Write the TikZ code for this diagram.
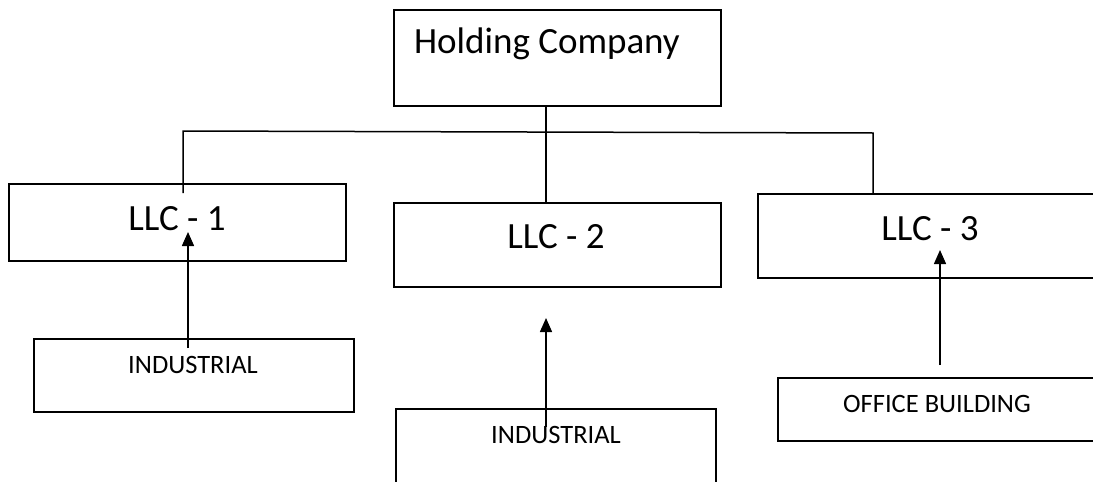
\documentclass[tikz,border=0pt]{standalone}
\usepackage{fontspec}
\setmainfont{Carlito}
\usetikzlibrary{arrows.meta}

\tikzset{
  box/.style={draw, line width=1.5pt, rectangle, inner sep=0pt, anchor=north west},
  bigtext/.style={font=\fontsize{37}{42}\selectfont, anchor=base, inner sep=0pt},
  smalltext/.style={font=\fontsize{26.5}{31}\selectfont, anchor=base, inner sep=0pt},
  wire/.style={line width=1.5pt},
  feed/.style={line width=1.5pt, -{Triangle[length=14pt,width=12pt]}}
}

\begin{document}
\begin{tikzpicture}[x=1pt, y=-1pt]
  \useasboundingbox (0,0) rectangle (1093,482);
  \clip (0,0) rectangle (1093,482);

  % boxes
  \node [box, minimum width=327pt, minimum height=96pt] (hold)  at (393,9)   {};
  \node [box, minimum width=337pt, minimum height=77pt] (llc1)  at (8,183)   {};
  \node [box, minimum width=327pt, minimum height=84pt] (llc2)  at (393,202) {};
  \node [box, minimum width=345pt, minimum height=84pt] (llc3)  at (757,193) {};
  \node [box, minimum width=320pt, minimum height=73pt] (ind1)  at (33,338)  {};
  \node [box, minimum width=320pt, minimum height=100pt] (ind2) at (395,408) {};
  \node [box, minimum width=325pt, minimum height=63pt] (office) at (777,377) {};

  % texts
  \node [bigtext]   (holdtext)   at (547,53)  {Holding Company};
  \node [bigtext]   (llc1text)   at (177,230) {LLC - 1};
  \node [bigtext]   (llc2text)   at (556,248) {LLC - 2};
  \node [bigtext]   (llc3text)   at (930,240) {LLC - 3};
  \node [smalltext] (ind1text)   at (193,373) {INDUSTRIAL};
  \node [smalltext] (ind2text)   at (556,443) {INDUSTRIAL};
  \node [smalltext] (officetext) at (937,412) {OFFICE BUILDING};

  % bus
  \coordinate (hub)  at (546,132);
  \coordinate (busL) at (183,131);
  \coordinate (busR) at (873,133);
  \coordinate (tap1) at (183,193);

  \draw [wire] (hold.south -| hub) -- (llc2.north -| hub);
  \draw [wire] (tap1) -- (busL) -- (busR) -- (llc3.north -| busR);

  % arrows
  \coordinate (tail1) at (188,348);
  \coordinate (tip1)  at (188,232);
  \coordinate (tail2) at (546,427);
  \coordinate (tip2)  at (546,318);
  \coordinate (tail3) at (940,365);
  \coordinate (tip3)  at (940,250);

  \draw [feed] (tail1) -- (tip1);
  \draw [feed] (tail2) -- (tip2);
  \draw [feed] (tail3) -- (tip3);
\end{tikzpicture}
\end{document}
